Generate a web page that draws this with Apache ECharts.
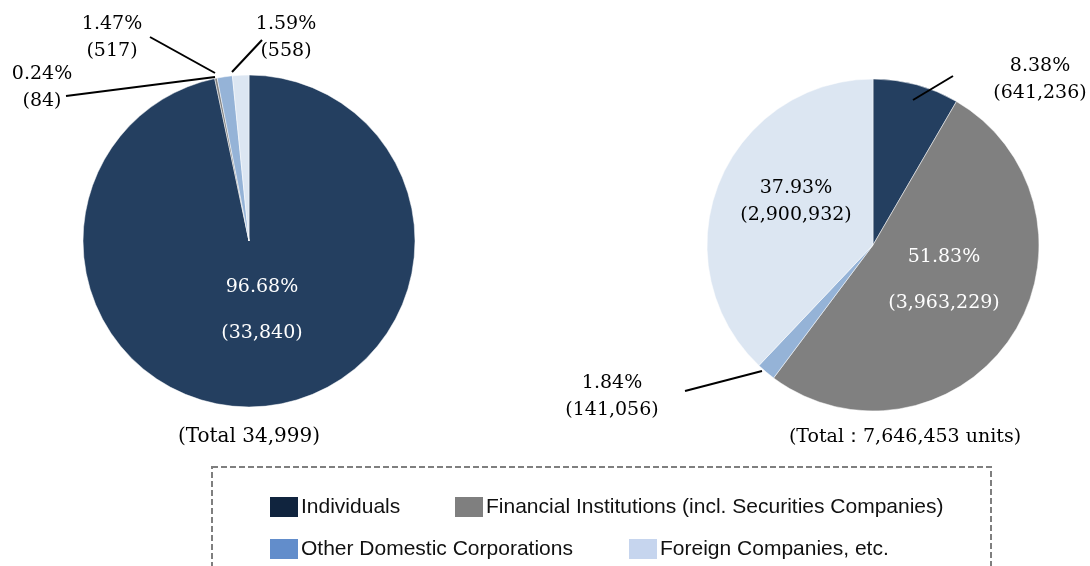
<!DOCTYPE html>
<html>
<head>
<meta charset="utf-8">
<script src="https://cdn.jsdelivr.net/npm/echarts@6/dist/echarts.min.js"></script>
<style>
  html, body { margin: 0; padding: 0; background: #fff; }
  #chart { width: 1090px; height: 566px; }
</style>
</head>
<body>
<div id="chart"></div>
<script>
  // categories
  var categories = ['Individuals', 'Financial Institutions (incl. Securities Companies)', 'Other Domestic Corporations', 'Foreign Companies, etc.'];

  // left pie: number of shareholders
  var leftValues = [33840, 84, 517, 558];
  var leftPct = ['96.68', '0.24', '1.47', '1.59'];
  var leftTotal = '(Total 34,999)';

  // right pie: number of units
  var rightValues = [641236, 3963229, 141056, 2900932];
  var rightPct = ['8.38', '51.83', '1.84', '37.93'];
  var rightTotal = '(Total\uFF1A7,646,453 units)';

  var sliceColors = ['#243f60', '#808080', '#95b3d7', '#dce6f2'];
  var legendColors = ['#10243e', '#7f7f7f', '#628dcb', '#c6d5ee'];

  // label placement (centre of text block) and leader lines, per pie / slice
  var labelPos = [
    [
      {x: 262, y: 310, inside: true},
      {x: 42, y: 88, line: [[215, 77], [66, 96]]},
      {x: 112, y: 38, line: [[215, 73], [150, 37]]},
      {x: 286, y: 38, line: [[232, 72], [262, 40]]}
    ],
    [
      {x: 1040, y: 80, line: [[913, 100], [953, 76]]},
      {x: 944, y: 280, inside: true},
      {x: 612, y: 397, line: [[762, 371], [685, 391]]},
      {x: 796, y: 202}
    ]
  ];

  var serif = '"DejaVu Serif", "Liberation Serif", serif';

  function fmt(n) {
    return n.toString().replace(/\B(?=(\d{3})+(?!\d))/g, ',');
  }

  function buildData(values, pct, pos) {
    return values.map(function (v, i) {
      var dark = pos[i].inside;
      return {
        name: categories[i],
        value: v,
        itemStyle: {color: sliceColors[i]},
        label: {
          formatter: pct[i] + '%\n(' + fmt(v) + ')',
          color: dark ? '#fff' : '#000',
          lineHeight: dark ? 46 : 27
        }
      };
    });
  }

  function makePie(center, values, pct, pos) {
    return {
      type: 'pie',
      center: center,
      radius: 166,
      startAngle: 90,
      clockwise: true,
      avoidLabelOverlap: false,
      animation: false,
      silent: true,
      itemStyle: {borderColor: '#fff', borderWidth: 0.5},
      label: {
        show: true,
        position: 'outside',
        fontFamily: serif,
        fontSize: 19,
        align: 'center'
      },
      labelLine: {show: false},
      labelLayout: function (params) {
        var p = pos[params.dataIndex];
        return {x: p.x, y: p.y, align: 'center', verticalAlign: 'middle'};
      },
      data: buildData(values, pct, pos)
    };
  }

  // leader lines drawn on top of the slices
  var leaders = [];
  labelPos.forEach(function (pie) {
    pie.forEach(function (p) {
      if (p.line) {
        leaders.push({
          type: 'polyline',
          z: 100,
          silent: true,
          shape: {points: p.line},
          style: {stroke: '#000', lineWidth: 2, fill: 'none'}
        });
      }
    });
  });

  // legend placement
  var legendPos = [
    {left: 263, top: 490},
    {left: 448, top: 490},
    {left: 263, top: 532},
    {left: 622, top: 532}
  ];

  var legends = categories.map(function (c, i) {
    return {
      left: legendPos[i].left,
      top: legendPos[i].top,
      orient: 'horizontal',
      itemWidth: 30,
      itemHeight: 22,
      selectedMode: false,
      icon: 'rect',
      textStyle: {
        fontFamily: '"Liberation Sans Narrow", "Liberation Sans", sans-serif',
        fontSize: 21,
        color: '#111',
        padding: [0, 0, 0, -3]
      },
      data: [{name: c, itemStyle: {color: legendColors[i]}}]
    };
  });

  var chart = echarts.init(document.getElementById('chart'));
  chart.setOption({
    backgroundColor: '#fff',
    animation: false,
    legend: legends,
    graphic: [
      {
        type: 'rect',
        shape: {x: 212, y: 467, width: 779, height: 140},
        style: {fill: 'none', stroke: '#7f7f7f', lineWidth: 2, lineDash: [6, 3]}
      },
      {
        type: 'text',
        x: 249, y: 437,
        style: {text: leftTotal, font: '20px ' + serif, fill: '#000', textAlign: 'center', textVerticalAlign: 'middle'}
      },
      {
        type: 'text',
        x: 905, y: 437,
        style: {text: rightTotal, font: '19px ' + serif, fill: '#000', textAlign: 'center', textVerticalAlign: 'middle'}
      }
    ].concat(leaders),
    series: [
      makePie([249, 241], leftValues, leftPct, labelPos[0]),
      makePie([873, 245], rightValues, rightPct, labelPos[1])
    ]
  });
</script>
</body>
</html>
